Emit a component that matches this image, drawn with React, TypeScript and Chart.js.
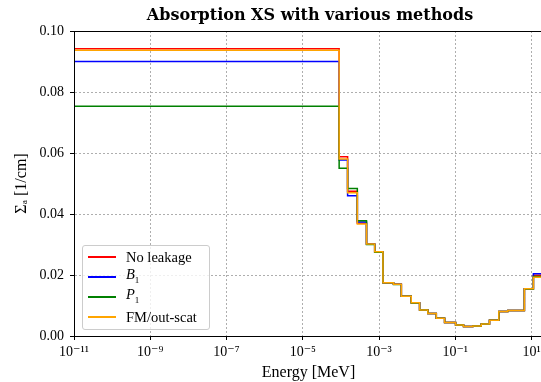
import React, { useEffect, useRef } from "react";
import { Chart, registerables } from "chart.js";

Chart.register(...registerables);

// Energy group boundaries [MeV]
const energyBounds = [
  1e-11, 9e-5, 1.5e-4, 2.7e-4, 4.7e-4, 7.7e-4, 1.27e-3, 2.4e-3, 3.85e-3, 7.0e-3,
  1.16e-2, 1.91e-2, 3.18e-2, 5.25e-2, 0.102, 0.165, 0.289, 0.48, 0.79, 1.39,
  2.39, 6.5, 11.2, 20,
];

// Group absorption cross sections [1/cm]
const noLeakage = [
  0.0942, 0.0588, 0.0475, 0.037, 0.0302, 0.0276, 0.0175, 0.017, 0.013, 0.0109,
  0.0085, 0.0074, 0.0058, 0.0044, 0.0036, 0.0031, 0.0033, 0.0039, 0.0052, 0.008,
  0.0084, 0.0155, 0.0199,
];
const b1 = [
  0.09, 0.0577, 0.046, 0.0374, 0.0302, 0.0276, 0.0175, 0.017, 0.013, 0.0109,
  0.0085, 0.0074, 0.0058, 0.0044, 0.0036, 0.0031, 0.0033, 0.0039, 0.0052, 0.008,
  0.0084, 0.0155, 0.0204,
];
const p1 = [
  0.0753, 0.055, 0.0484, 0.0378, 0.03, 0.0275, 0.0175, 0.0169, 0.013, 0.0108,
  0.0085, 0.0074, 0.0058, 0.0044, 0.0036, 0.0031, 0.0033, 0.0039, 0.0052, 0.008,
  0.0084, 0.0154, 0.0195,
];
const fmOutScat = [
  0.0937, 0.058, 0.047, 0.0367, 0.0302, 0.0276, 0.0175, 0.017, 0.013, 0.0109,
  0.0085, 0.0074, 0.0058, 0.0044, 0.0036, 0.0031, 0.0033, 0.0039, 0.0052, 0.008,
  0.0084, 0.0155, 0.0193,
];

const seriesLabels = ["No leakage", "B₁", "P₁", "FM/out-scat"];
const seriesColors = ["#ff0000", "#0000ff", "#008000", "#ffa500"];

const xTickExponents = [-11, -9, -7, -5, -3, -1, 1];
const yTicks = [0, 0.02, 0.04, 0.06, 0.08, 0.1];

const SUP: Record<string, string> = {
  "-": "⁻", "0": "⁰", "1": "¹", "2": "²", "3": "³", "4": "⁴",
  "5": "⁵", "6": "⁶", "7": "⁷", "8": "⁸", "9": "⁹",
};
const sup = (n: number) => String(n).split("").map((c) => SUP[c]).join("");

const toSteps = (vals: number[]) =>
  energyBounds.map((e, i) => ({ x: e, y: vals[Math.min(i, vals.length - 1)] }));

const FONT = "'Liberation Serif', 'DejaVu Serif', serif";
const TITLE_FONT = "'DejaVu Serif', 'Liberation Serif', serif";
const W = 620;
const H = 382;
const LEFT = 74;
const RIGHT = 543;
const BOTTOM = 336;

const framePlugin = {
  id: "frame",
  afterDatasetsDraw(chart: any) {
    const { ctx, chartArea } = chart;
    ctx.save();
    ctx.strokeStyle = "#000";
    ctx.lineWidth = 1;
    ctx.strokeRect(
      Math.round(chartArea.left) + 0.5,
      Math.round(chartArea.top) + 0.5,
      Math.round(chartArea.right - chartArea.left),
      Math.round(chartArea.bottom - chartArea.top)
    );
    ctx.restore();
  },
};

export default function App() {
  const ref = useRef<HTMLCanvasElement | null>(null);

  useEffect(() => {
    if (!ref.current) return;
    const all = [noLeakage, b1, p1, fmOutScat];
    const chart = new Chart(ref.current, {
      type: "line",
      data: {
        datasets: all.map((vals, i) => ({
          label: seriesLabels[i],
          data: toSteps(vals),
          borderColor: seriesColors[i],
          backgroundColor: seriesColors[i],
          borderWidth: 1.5,
          pointRadius: 0,
          stepped: "before" as const,
          fill: false,
          order: all.length - 1 - i,
        })),
      },
      options: {
        responsive: false,
        animation: false,
        layout: { padding: 0 },
        plugins: {
          legend: { display: false },
          tooltip: { enabled: false },
          title: {
            display: true,
            text: "Absorption XS with various methods",
            color: "#000",
            font: { family: TITLE_FONT, size: 16, weight: "bold" },
            padding: { top: 6, bottom: 5.8 },
          },
        },
        scales: {
          x: {
            type: "logarithmic",
            position: "bottom",
            min: 1e-11,
            max: 20,
            afterBuildTicks: (s: any) => {
              s.ticks = xTickExponents.map((e) => ({ value: Math.pow(10, e) }));
            },
            afterFit: (s: any) => {
              s.height = H - BOTTOM;
            },
            ticks: {
              autoSkip: false,
              maxRotation: 0,
              padding: 4,
              color: "#000",
              font: { family: FONT, size: 14 },
              callback: (v: any) => "10" + sup(Math.round(Math.log10(Number(v)))),
            },
            grid: {
              color: "#9a9a9a",
              lineWidth: 0.8,
              tickColor: "#000",
              tickLength: 4,
              tickWidth: 1,
            },
            border: { color: "#000", width: 1, dash: [2, 2] },
            title: {
              display: true,
              text: "Energy [MeV]",
              color: "#000",
              font: { family: FONT, size: 16 },
              padding: { top: 0, bottom: 0 },
            },
          },
          y: {
            min: 0,
            max: 0.1,
            afterBuildTicks: (s: any) => {
              s.ticks = yTicks.map((v) => ({ value: v }));
            },
            afterFit: (s: any) => {
              s.width = LEFT;
            },
            ticks: {
              padding: 6,
              color: "#000",
              font: { family: FONT, size: 14 },
              callback: (v: any) => Number(v).toFixed(2),
            },
            grid: {
              color: "#9a9a9a",
              lineWidth: 0.8,
              tickColor: "#000",
              tickLength: 4,
              tickWidth: 1,
            },
            border: { color: "#000", width: 1, dash: [2, 2] },
            title: {
              display: true,
              text: "Σₐ [1/cm]",
              color: "#000",
              font: { family: FONT, size: 16 },
              padding: { top: 12, bottom: 0 },
            },
          },
          yRight: {
            position: "right",
            display: true,
            afterFit: (s: any) => {
              s.width = W - RIGHT;
            },
            ticks: { display: false },
            grid: { display: false, drawTicks: false },
            border: { display: false },
          },
        },
      },
      plugins: [framePlugin],
    } as any);
    return () => chart.destroy();
  }, []);

  const legendRow = (i: number) => {
    const label =
      i === 1 ? (
        <span><i>B</i><sub style={{ fontSize: "9px" }}>1</sub></span>
      ) : i === 2 ? (
        <span><i>P</i><sub style={{ fontSize: "9px" }}>1</sub></span>
      ) : (
        <span>{seriesLabels[i]}</span>
      );
    return (
      <div
        key={i}
        style={{
          position: "absolute",
          left: 0,
          top: 1 + i * 20,
          height: 20,
          display: "flex",
          alignItems: "center",
        }}
      >
        <div
          style={{
            marginLeft: 5,
            width: 28,
            height: 2,
            backgroundColor: seriesColors[i],
          }}
        />
        <div style={{ marginLeft: 10, lineHeight: "20px", whiteSpace: "nowrap" }}>{label}</div>
      </div>
    );
  };

  return (
    <div
      style={{
        position: "fixed",
        left: 0,
        top: 0,
        width: 541,
        height: 382,
        overflow: "hidden",
        background: "#fff",
      }}
    >
      <canvas ref={ref} width={W} height={H} style={{ display: "block", width: W, height: H }} />
      <div
        style={{
          position: "absolute",
          left: 82,
          top: 245,
          width: 126,
          height: 83,
          border: "1px solid #cccccc",
          borderRadius: 3,
          background: "rgba(255,255,255,0.8)",
          fontFamily: FONT,
          fontSize: 14.5,
          color: "#000",
        }}
      >
        {[0, 1, 2, 3].map(legendRow)}
      </div>
    </div>
  );
}
